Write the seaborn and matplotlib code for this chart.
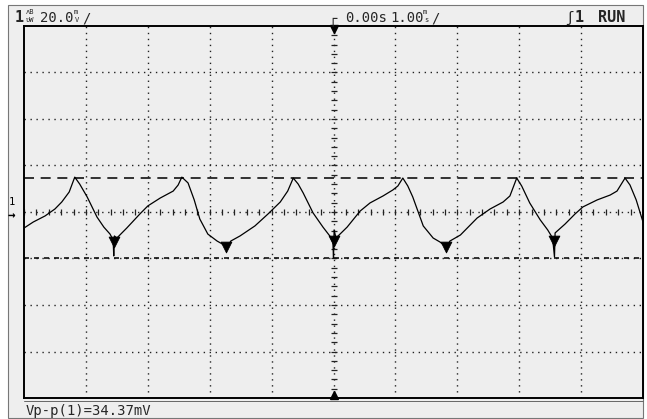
import numpy as np
import matplotlib
matplotlib.use("Agg")
import matplotlib.pyplot as plt
from matplotlib.patches import Rectangle
from matplotlib.lines import Line2D
import seaborn as sns
import pandas as pd

# trace (time in ms, voltage in mV)
time_ms = [-5.00, -4.85, -4.66, -4.50, -4.39, -4.27, -4.18, -4.10, -3.98, -3.82, -3.71, -3.61,
           -3.56, -3.55, -3.54, -3.50, -3.34, -3.13, -3.00, -2.80, -2.59, -2.51, -2.45, -2.35,
           -2.25, -2.16, -2.03, -1.88, -1.74, -1.73, -1.66, -1.51, -1.27, -1.06, -0.86, -0.74,
           -0.65, -0.57, -0.49, -0.33, -0.17, -0.06, -0.01, 0.00, 0.01, 0.04, 0.22, 0.43,
           0.59, 0.80, 0.96, 1.04, 1.12, 1.20, 1.28, 1.45, 1.61, 1.72, 1.80, 1.81,
           1.88, 2.05, 2.32, 2.53, 2.74, 2.85, 2.96, 3.04, 3.17, 3.34, 3.46, 3.54,
           3.57, 3.58, 3.74, 3.90, 4.03, 4.26, 4.47, 4.58, 4.71, 4.79, 4.89, 5.00]
volt_mv = [-6.9, -4.3, -1.7, 1.3, 4.3, 8.6, 15.0, 12.0, 6.5, -2.2, -6.5, -9.5,
           -12.0, -18.9, -10.3, -11.2, -6.9, -0.9, 2.6, 6.0, 9.0, 11.6, 15.0, 12.5,
           5.2, -3.0, -9.5, -12.5, -14.6, -16.3, -12.5, -10.3, -6.0, -0.9, 4.3, 9.0,
           14.6, 12.0, 8.2, -0.4, -6.5, -10.3, -12.9, -19.8, -7.7, -11.2, -6.5, 0.4,
           3.9, 6.9, 9.5, 11.2, 14.6, 11.2, 6.5, -6.0, -11.2, -12.9, -14.6, -16.3,
           -12.5, -9.9, -2.6, 1.3, 4.3, 6.9, 14.6, 11.2, 3.9, -3.4, -7.7, -11.2,
           -19.4, -9.0, -5.2, -0.9, 2.2, 5.2, 7.3, 9.0, 14.6, 11.6, 5.2, -4.3]

# noise blobs at the troughs
glitch_t = [-3.55, -1.73, 0.00, 1.81, 3.57]
glitch_v = [-13.0, -15.0, -12.5, -15.0, -12.5]

cursor_top = 14.6
cursor_bottom = -19.77

W, H = 647, 419
BG = "#eeeeee"
MONO = "DejaVu Sans Mono"

sns.set_style("white")
plt.rcParams["font.family"] = [MONO, "DejaVu Sans"]


def fx(x):
    return x / W


def fy(y):
    return 1 - y / H


fig = plt.figure(figsize=(W / 100, H / 100), dpi=100, facecolor="white")

# screen background and outer frame
fig.patches.append(Rectangle((fx(8), fy(418)), fx(643) - fx(8), fy(5) - fy(418),
                             transform=fig.transFigure, facecolor=BG,
                             edgecolor="#777777", linewidth=0.8, zorder=-10))
fig.lines.append(Line2D([fx(24), fx(643)], [fy(401), fy(401)], transform=fig.transFigure,
                        color="#666666", linewidth=0.7, zorder=-5))

ax = fig.add_axes([fx(24), fy(398), fx(643) - fx(24), fy(26) - fy(398)])
ax.set_facecolor(BG)
ax.set_xlim(-5, 5)
ax.set_ylim(-80, 80)

# graticule
dot = dict(color="#222222", linewidth=1.0, linestyle=(0, (1.0, 3.3)), zorder=1)
for t in np.arange(-4, 5, 1):
    ax.axvline(t, **dot)
for v in np.arange(-60, 80, 20):
    ax.axhline(v, **dot)
minor_t = list(np.arange(-5, 5.01, 0.2))
ax.plot(minor_t, [0] * len(minor_t), linestyle="none", marker="|", markersize=5,
        markeredgewidth=0.9, color="#222222", zorder=1)
minor_v = list(np.arange(-80, 80.01, 4))
ax.plot([0] * len(minor_v), minor_v, linestyle="none", marker="_", markersize=5,
        markeredgewidth=0.9, color="#222222", zorder=1)
ax.plot([0], [78.5], marker="v", markersize=6, color="black", clip_on=False, zorder=3)
ax.plot([0], [-78.5], marker="^", markersize=6, color="black", clip_on=False, zorder=3)

# cursors
ax.axhline(cursor_top, color="#111111", linewidth=1.2, linestyle=(0, (6, 4)), zorder=2)
ax.axhline(cursor_bottom, color="#111111", linewidth=1.2, linestyle=(0, (3, 3)), zorder=2)

# trace
df = pd.DataFrame({"t": time_ms, "v": volt_mv})
sns.lineplot(data=df, x="t", y="v", sort=False, color="black", linewidth=0.9,
             estimator=None, ax=ax, zorder=4)
sns.scatterplot(x=glitch_t, y=glitch_v, marker="v", s=60, color="black",
                edgecolor="black", ax=ax, zorder=5)
ax.set_xlabel("")
ax.set_ylabel("")
ax.set_xticks([])
ax.set_yticks([])
for s in ax.spines.values():
    s.set_color("black")
    s.set_linewidth(1.4)

# channel 1 ground marker
fig.text(fx(9), fy(205), "1", fontsize=7.5, ha="left", va="baseline", color="black")
fig.text(fx(8), fy(216), "\u2192", fontsize=9, ha="left", va="center", color="black",
         fontweight="bold")

# header
fs = 10
fig.text(fx(15), fy(22), "1", fontsize=11, fontweight="bold", ha="left", va="baseline")
fig.text(fx(26), fy(14), "\u028cB", fontsize=5, ha="left", va="baseline")
fig.text(fx(26), fy(22), "\u028bW", fontsize=5, ha="left", va="baseline")
fig.text(fx(40), fy(22), "20.0", fontsize=fs, ha="left", va="baseline")
fig.text(fx(74), fy(14), "m", fontsize=5, ha="left", va="baseline")
fig.text(fx(75), fy(22), "V", fontsize=5, ha="left", va="baseline")
fig.text(fx(82), fy(22), "/", fontsize=fs, ha="left", va="baseline")

fig.text(fx(328), fy(22), "\u250c", fontsize=fs, ha="left", va="baseline")
fig.text(fx(345), fy(22), "0.00s", fontsize=fs, ha="left", va="baseline")
fig.text(fx(390), fy(22), "1.00", fontsize=fs, ha="left", va="baseline")
fig.text(fx(423), fy(14), "m", fontsize=5, ha="left", va="baseline")
fig.text(fx(424), fy(22), "s", fontsize=5, ha="left", va="baseline")
fig.text(fx(431), fy(22), "/", fontsize=fs, ha="left", va="baseline")

fig.text(fx(565), fy(22), "\u0283", fontsize=fs, ha="left", va="baseline")
fig.text(fx(575), fy(22), "1", fontsize=11, fontweight="bold", ha="left", va="baseline")
fig.text(fx(598), fy(22), "RUN", fontsize=11, fontweight="bold", ha="left",
         va="baseline", family=["DejaVu Sans Condensed", MONO])

# measurement readout
fig.text(fx(26), fy(415), "Vp-p(1)=34.37mV", fontsize=fs, ha="left", va="baseline")

fig.savefig("out.png", dpi=100, facecolor="white")
